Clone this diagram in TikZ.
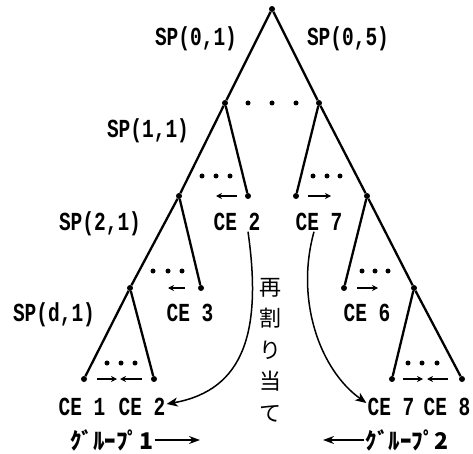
\documentclass[tikz,border=0pt]{standalone}
\usepackage{fontspec}
\usetikzlibrary{arrows.meta, positioning}
\newfontfamily\twfont[FakeStretch=0.75]{Liberation Mono}
\newfontfamily\cjk{Noto Sans CJK JP}
\tikzset{
  vtx/.style={circle, fill=black, inner sep=0pt, minimum size=6pt},
  edgeT/.style={line width=2.3pt},
  lbl/.style={font=\twfont\bfseries\fontsize{26}{26}\selectfont, inner sep=1pt,
              text height=15pt, text depth=0pt},
  jlbl/.style={font=\cjk\bfseries\fontsize{23}{23}\selectfont, inner sep=1pt},
  jvert/.style={font=\cjk\fontsize{22}{31.5}\selectfont, align=center, inner sep=0pt},
  arrowS/.style={-{Stealth[length=6pt, width=6pt]}, line width=1.4pt},
  arrowC/.style={-{Stealth[length=11pt, width=9pt, inset=3pt]}, line width=1.5pt},
  arrowG/.style={-{Stealth[length=11pt, width=8pt]}, line width=1.6pt},
}

\begin{document}
\begin{tikzpicture}[x=1pt, y=-1pt]
  \useasboundingbox (0,0) rectangle (473,454);
  % tree vertices
  \node[vtx] (r)  at (272,9)   {};
  \node[vtx] (a1) at (225,103) {};
  \node[vtx] (a2) at (319,103) {};
  \node[vtx] (b1) at (179,196) {};
  \node[vtx] (b2) at (248,196) {};
  \node[vtx] (b3) at (296,196) {};
  \node[vtx] (b4) at (367,196) {};
  \node[vtx] (c1) at (130,288) {};
  \node[vtx] (c2) at (201,288) {};
  \node[vtx] (c3) at (344,288) {};
  \node[vtx] (c4) at (414,288) {};
  \node[vtx] (d1) at (84,379)  {};
  \node[vtx] (d2) at (154,379) {};
  \node[vtx] (d3) at (392,379) {};
  \node[vtx] (d4) at (462,379) {};
  \foreach \p/\q in {r/a1, r/a2, a1/b1, a1/b2, a2/b3, a2/b4, b1/c1, b1/c2,
                     b4/c3, b4/c4, c1/d1, c1/d2, c4/d3, c4/d4}
    \draw[edgeT] (\p) -- (\q);
  % ellipsis dots
  \foreach \x/\y in {248/103, 272/103, 296/103,
                     202/176, 216/176, 230/176, 313/176, 327/176, 340/176,
                     153/271, 168/271, 182/271, 362/271, 375/271, 388/271,
                     107/363, 121/363, 135/363, 408/363, 422/363, 437/363}
    \fill (\x,\y) circle (2.5pt);
  % small moves
  \draw[arrowS] ([xshift=-11pt]b2.center) -- ++(-21,0);
  \draw[arrowS] ([xshift=12pt]b3.center) -- ++(23,0);
  \draw[arrowS] ([xshift=-16pt]c2.center) -- ++(-17,0);
  \draw[arrowS] ([xshift=13pt]c3.center) -- ++(21,0);
  \draw[arrowS] ([xshift=13pt]d1.center) -- ++(20,0);
  \draw[arrowS] ([xshift=-12pt]d2.center) -- ++(-22,0);
  \draw[arrowS] ([xshift=11pt]d3.center) -- ++(20,0);
  \draw[arrowS] ([xshift=-14pt]d4.center) -- ++(-21,0);
  % labels
  \node[lbl] (sp01) at (196,38)  {SP(0,1)};
  \node[lbl] (sp05) at (348,38)  {SP(0,5)};
  \node[lbl] (sp11) at (148,130) {SP(1,1)};
  \node[lbl] (sp21) at (100,223) {SP(2,1)};
  \node[lbl] (spd1) at (54,314)  {SP(d,1)};
  \node[lbl] (ce2u) at (237,223) {CE 2};
  \node[lbl] (ce7u) at (319,223) {CE 7};
  \node[lbl] (ce3)  at (190,314) {CE 3};
  \node[lbl] (ce6)  at (367,314) {CE 6};
  \node[lbl] (ce1)  at (82,408)  {CE 1};
  \node[lbl] (ce2b) at (142,408) {CE 2};
  \node[lbl] (ce7b) at (391,408) {CE 7};
  \node[lbl] (ce8)  at (447,408) {CE 8};
  \node[jvert] (realloc) at (270,350) {再\\割\\り\\当\\て};
  % reallocation
  \draw[arrowC] ([xshift=11pt]ce2u.south) .. controls (262,330) and (245,390) .. ([yshift=4pt]ce2b.east);
  \draw[arrowC] ([xshift=-5pt]ce7u.south) .. controls (295,300) and (320,370) .. ([yshift=5pt]ce7b.west);
  % groups
  \node[jlbl] (grp1) at (112,440) {ｸﾞﾙｰﾌﾟ1};
  \node[jlbl] (grp2) at (407,440) {ｸﾞﾙｰﾌﾟ2};
  \coordinate (g1end) at (200,440);
  \coordinate (g2end) at (323,440);
  \draw[arrowG] (grp1) -- (g1end);
  \draw[arrowG] (grp2) -- (g2end);
\end{tikzpicture}
\end{document}
